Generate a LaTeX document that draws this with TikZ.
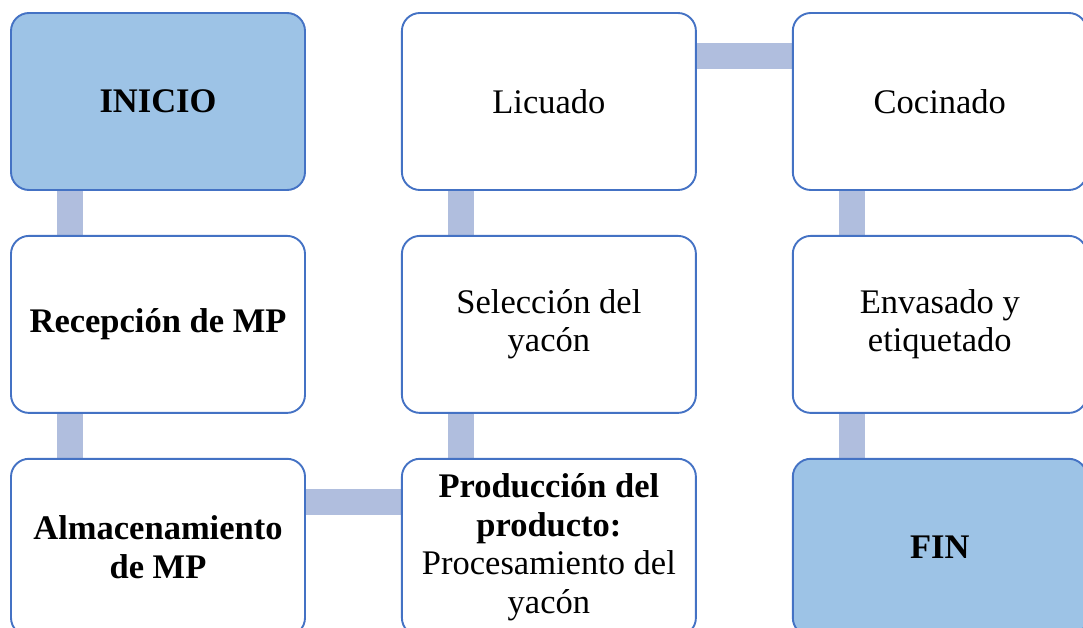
\documentclass[tikz,border=0pt]{standalone}
\usepackage{fontspec}
\setmainfont{Liberation Serif}
\usepackage{tikz}
\usetikzlibrary{positioning,backgrounds}
\definecolor{boxline}{HTML}{4472C4}
\definecolor{startfill}{HTML}{9DC3E6}
\definecolor{linkcol}{HTML}{B0BEDE}

\begin{document}
\begin{tikzpicture} [x=1pt,y=1pt,every node/.style={draw=boxline,line width=1.9pt,rounded corners=18pt,minimum width=294pt,minimum height=177pt,inner sep=0pt,align=center,font=\fontsize{34.5}{38.5}\selectfont},node distance=44pt and 95pt]

\tikzstyle{start}=[fill=startfill]
\tikzstyle{link}=[linkcol,line width=26pt]

\useasboundingbox (0,0) rectangle (1083,-628);

\node (ini) [start] at (158,-101.5) {\textbf{INICIO}};
\node (rec) [below=of ini] {\textbf{Recepción de MP}};
\node (alm) [below=of rec] {\textbf{Almacenamiento}\\\textbf{de MP}};

\node (pro) [right=of alm] {\textbf{Producción del}\\\textbf{producto:}\\Procesamiento del\\yacón};
\node (sel) [above=of pro] {Selección del\\yacón};
\node (lic) [above=of sel] {Licuado};

\node (coc) [right=of lic] {Cocinado};
\node (env) [below=of coc] {Envasado y\\etiquetado};
\node (fin) [start,below=of env] {\textbf{FIN}};

\begin{scope}[on background layer]
\draw [link] ([xshift=60pt]ini.south west) -- ([xshift=60pt]rec.north west);
\draw [link] ([xshift=60pt]rec.south west) -- ([xshift=60pt]alm.north west);
\draw [link] ([yshift=-44pt]alm.north east) -- ([yshift=-44pt]pro.north west);
\draw [link] ([xshift=60pt]pro.north west) -- ([xshift=60pt]sel.south west);
\draw [link] ([xshift=60pt]sel.north west) -- ([xshift=60pt]lic.south west);
\draw [link] ([yshift=-44pt]lic.north east) -- ([yshift=-44pt]coc.north west);
\draw [link] ([xshift=60pt]coc.south west) -- ([xshift=60pt]env.north west);
\draw [link] ([xshift=60pt]env.south west) -- ([xshift=60pt]fin.north west);
\end{scope}

\end{tikzpicture}
\end{document}
